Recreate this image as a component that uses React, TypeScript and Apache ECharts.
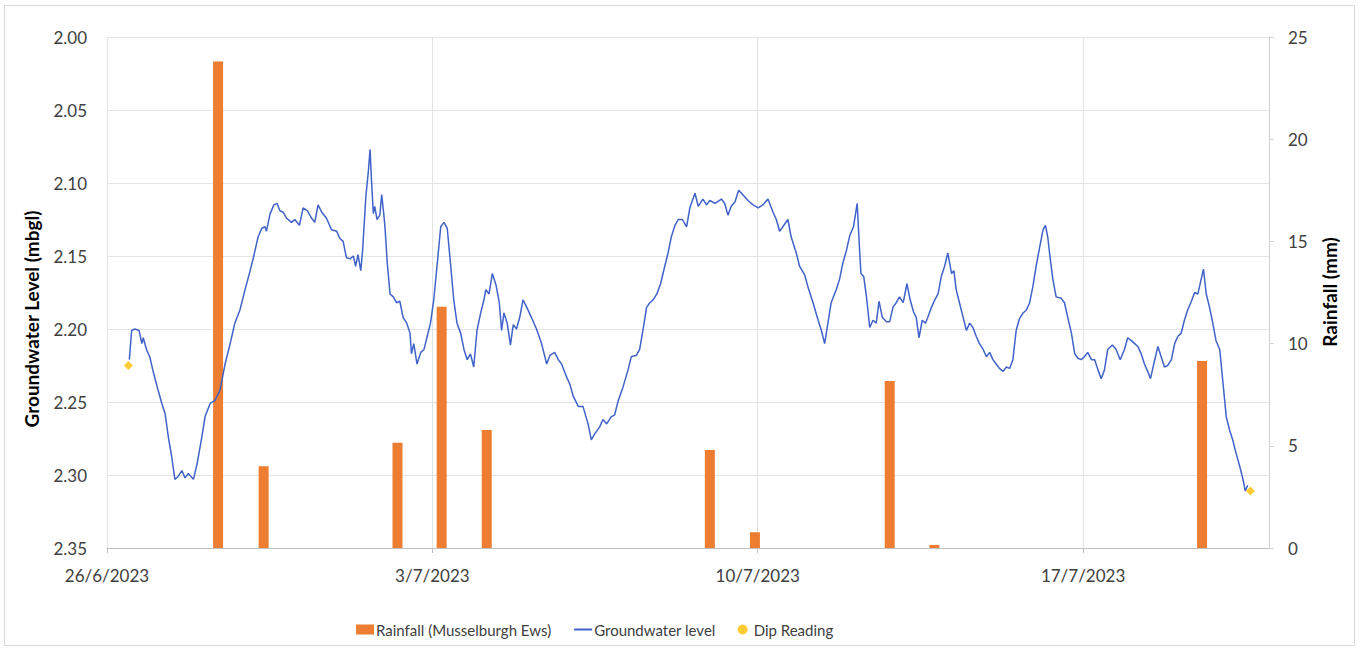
import React, { useEffect, useRef } from "react";
import * as echarts from "echarts";

// x values are days since 26/6/2023 00:00
const xTickLabels = ["26/6/2023", "3/7/2023", "10/7/2023", "17/7/2023"];

const rainDays = [2.39, 3.37, 6.25, 7.2, 8.17, 12.97, 13.94, 16.84, 17.8, 23.56];
const rainMm = [23.8, 4.0, 5.15, 11.8, 5.77, 4.79, 0.77, 8.17, 0.15, 9.15];

const dipDays = [0.46, 24.6];
const dipLevels = [2.225, 2.311];

const gwLevel: [number, number][] = [
  [0.48, 2.221], [0.53, 2.201], [0.6, 2.2], [0.69, 2.201], [0.75, 2.21], [0.78, 2.206],
  [0.85, 2.214], [0.92, 2.219], [1.0, 2.23], [1.1, 2.242], [1.18, 2.251], [1.25, 2.258],
  [1.32, 2.274], [1.39, 2.287], [1.46, 2.303], [1.53, 2.301], [1.61, 2.297], [1.68, 2.302],
  [1.75, 2.299], [1.86, 2.303], [1.94, 2.292], [2.04, 2.274], [2.11, 2.26], [2.22, 2.251],
  [2.32, 2.249], [2.43, 2.242], [2.54, 2.224], [2.65, 2.21], [2.75, 2.196], [2.86, 2.187],
  [2.97, 2.173], [3.08, 2.16], [3.15, 2.151], [3.25, 2.137], [3.33, 2.131], [3.4, 2.13],
  [3.43, 2.133], [3.51, 2.121], [3.59, 2.115], [3.66, 2.114], [3.72, 2.119], [3.79, 2.12],
  [3.86, 2.124], [3.97, 2.127], [4.04, 2.125], [4.14, 2.129], [4.22, 2.117], [4.31, 2.119],
  [4.4, 2.124], [4.47, 2.127], [4.54, 2.115], [4.62, 2.12], [4.72, 2.124], [4.83, 2.132],
  [4.94, 2.133], [5.01, 2.138], [5.08, 2.14], [5.15, 2.151], [5.23, 2.152], [5.3, 2.15],
  [5.35, 2.157], [5.4, 2.149], [5.46, 2.16], [5.5, 2.146], [5.57, 2.109], [5.62, 2.093],
  [5.66, 2.077], [5.69, 2.098], [5.73, 2.121], [5.76, 2.116], [5.81, 2.125], [5.87, 2.122],
  [5.91, 2.108], [5.96, 2.123], [5.98, 2.13], [6.03, 2.155], [6.09, 2.176], [6.16, 2.178],
  [6.23, 2.182], [6.3, 2.181], [6.37, 2.192], [6.45, 2.196], [6.52, 2.203], [6.55, 2.217],
  [6.6, 2.21], [6.67, 2.224], [6.75, 2.216], [6.82, 2.214], [6.89, 2.205], [6.96, 2.196],
  [7.03, 2.18], [7.1, 2.157], [7.18, 2.13], [7.25, 2.127], [7.32, 2.131], [7.39, 2.155],
  [7.46, 2.18], [7.53, 2.196], [7.61, 2.203], [7.68, 2.214], [7.75, 2.221], [7.82, 2.217],
  [7.89, 2.226], [7.96, 2.201], [8.04, 2.189], [8.11, 2.18], [8.15, 2.173], [8.22, 2.176],
  [8.29, 2.162], [8.37, 2.17], [8.44, 2.182], [8.49, 2.201], [8.54, 2.189], [8.61, 2.196],
  [8.68, 2.211], [8.74, 2.197], [8.81, 2.2], [8.88, 2.192], [8.95, 2.18], [9.03, 2.185],
  [9.13, 2.192], [9.24, 2.2], [9.35, 2.21], [9.46, 2.224], [9.53, 2.218], [9.63, 2.216],
  [9.71, 2.221], [9.78, 2.224], [9.89, 2.233], [9.96, 2.238], [10.03, 2.246], [10.14, 2.253],
  [10.24, 2.253], [10.35, 2.265], [10.42, 2.276], [10.49, 2.272], [10.6, 2.267], [10.67, 2.262],
  [10.75, 2.265], [10.85, 2.26], [10.92, 2.259], [11.0, 2.249], [11.1, 2.24], [11.21, 2.228],
  [11.28, 2.219], [11.39, 2.218], [11.46, 2.214], [11.53, 2.201], [11.61, 2.185], [11.68, 2.182],
  [11.75, 2.18], [11.83, 2.176], [11.91, 2.169], [12.0, 2.157], [12.07, 2.148], [12.14, 2.137],
  [12.22, 2.129], [12.29, 2.125], [12.38, 2.125], [12.47, 2.13], [12.54, 2.117], [12.65, 2.107],
  [12.72, 2.116], [12.82, 2.111], [12.9, 2.115], [12.97, 2.112], [13.08, 2.114], [13.22, 2.111],
  [13.29, 2.114], [13.36, 2.122], [13.43, 2.116], [13.51, 2.113], [13.59, 2.105], [13.68, 2.108],
  [13.79, 2.112], [13.9, 2.115], [14.01, 2.117], [14.11, 2.115], [14.22, 2.111], [14.33, 2.12],
  [14.4, 2.125], [14.47, 2.133], [14.54, 2.13], [14.65, 2.125], [14.72, 2.137], [14.83, 2.148],
  [14.9, 2.157], [15.01, 2.163], [15.08, 2.171], [15.19, 2.182], [15.3, 2.194], [15.37, 2.201],
  [15.44, 2.21], [15.51, 2.196], [15.58, 2.182], [15.69, 2.173], [15.76, 2.166], [15.83, 2.155],
  [15.91, 2.146], [15.98, 2.136], [16.06, 2.13], [16.14, 2.114], [16.18, 2.139], [16.22, 2.162],
  [16.28, 2.164], [16.34, 2.178], [16.41, 2.199], [16.48, 2.194], [16.55, 2.196], [16.61, 2.181],
  [16.68, 2.192], [16.77, 2.195], [16.84, 2.195], [16.91, 2.185], [16.98, 2.182], [17.05, 2.178],
  [17.13, 2.182], [17.21, 2.169], [17.28, 2.18], [17.35, 2.188], [17.41, 2.192], [17.47, 2.206],
  [17.54, 2.194], [17.61, 2.196], [17.66, 2.192], [17.74, 2.185], [17.81, 2.18], [17.88, 2.176],
  [17.95, 2.164], [18.02, 2.157], [18.09, 2.148], [18.17, 2.162], [18.22, 2.16], [18.27, 2.173],
  [18.34, 2.182], [18.42, 2.192], [18.49, 2.201], [18.56, 2.196], [18.63, 2.199], [18.7, 2.205],
  [18.77, 2.21], [18.85, 2.214], [18.92, 2.219], [18.99, 2.216], [19.06, 2.221], [19.13, 2.224],
  [19.2, 2.227], [19.28, 2.229], [19.35, 2.226], [19.42, 2.227], [19.49, 2.221], [19.56, 2.201],
  [19.63, 2.193], [19.71, 2.189], [19.78, 2.187], [19.85, 2.182], [19.92, 2.171], [19.99, 2.157],
  [20.06, 2.145], [20.14, 2.132], [20.19, 2.129], [20.24, 2.137], [20.29, 2.151], [20.35, 2.166],
  [20.42, 2.178], [20.53, 2.179], [20.6, 2.182], [20.67, 2.192], [20.75, 2.203], [20.82, 2.217],
  [20.89, 2.22], [20.96, 2.221], [21.03, 2.219], [21.1, 2.216], [21.18, 2.221], [21.25, 2.221],
  [21.32, 2.228], [21.39, 2.234], [21.46, 2.228], [21.53, 2.214], [21.63, 2.211], [21.71, 2.214],
  [21.8, 2.221], [21.89, 2.214], [21.96, 2.206], [22.04, 2.208], [22.11, 2.21], [22.18, 2.212],
  [22.25, 2.217], [22.32, 2.224], [22.39, 2.229], [22.45, 2.234], [22.52, 2.224], [22.61, 2.212],
  [22.68, 2.219], [22.75, 2.226], [22.82, 2.225], [22.9, 2.221], [22.97, 2.21], [23.04, 2.205],
  [23.11, 2.203], [23.18, 2.194], [23.25, 2.187], [23.33, 2.181], [23.4, 2.175], [23.47, 2.176],
  [23.54, 2.166], [23.59, 2.159], [23.65, 2.176], [23.72, 2.185], [23.79, 2.196], [23.86, 2.208],
  [23.94, 2.214], [24.01, 2.237], [24.08, 2.26], [24.15, 2.269], [24.22, 2.276], [24.29, 2.285],
  [24.37, 2.294], [24.44, 2.303], [24.49, 2.311], [24.54, 2.307],
];

const leftTitle = "Groundwater Level (mbgl)";
const rightTitle = "Rainfall (mm)";

const FONT = "Lato, 'Open Sans', sans-serif";
const TXT = "#404040";

export default function App() {
  const ref = useRef<HTMLDivElement>(null);
  useEffect(() => {
    if (!ref.current) return;
    const chart = echarts.init(ref.current, null, { renderer: "svg" });
    chart.setOption({
      animation: false,
      backgroundColor: "#ffffff",
      textStyle: { fontFamily: FONT },
      graphic: [
        {
          type: "rect",
          shape: { x: 4.5, y: 5.5, width: 1350, height: 640 },
          style: { fill: "none", stroke: "#d9d9d9", lineWidth: 1 },
          silent: true,
        },
        {
          type: "text",
          x: 31,
          y: 319,
          rotation: Math.PI / 2,
          style: {
            text: leftTitle,
            font: `bold 19px ${FONT}`,
            fill: "#000",
            align: "center",
            verticalAlign: "middle",
          },
        },
        {
          type: "text",
          x: 1329,
          y: 292,
          rotation: Math.PI / 2,
          style: {
            text: rightTitle,
            font: `bold 19px ${FONT}`,
            fill: "#000",
            align: "center",
            verticalAlign: "middle",
          },
        },
      ],
      grid: { left: 107, right: 94, top: 37, bottom: 102, containLabel: false },
      legend: {
        left: 351,
        top: 617,
        itemWidth: 18,
        itemHeight: 10,
        itemGap: 22,
        textStyle: { fontFamily: FONT, fontSize: 15, color: TXT, padding: [0, 0, 0, -3] },
        data: [
          { name: "Rainfall (Musselburgh Ews)", icon: "rect" },
          { name: "Groundwater level", itemStyle: { opacity: 0 } },
          { name: "Dip Reading", icon: "circle", itemStyle: { color: "#FFC000" } },
        ],
      },
      xAxis: {
        type: "value",
        min: 0,
        max: 25,
        interval: 7,
        axisLine: { show: true, lineStyle: { color: "#bfbfbf" } },
        axisTick: { show: true, length: 5, lineStyle: { color: "#bfbfbf" } },
        axisLabel: {
          color: TXT,
          fontSize: 17,
          fontFamily: FONT,
          margin: 19,
          showMaxLabel: false,
          formatter: (v: number) => xTickLabels[Math.round(v / 7)] ?? "",
        },
        splitLine: { show: true, lineStyle: { color: "#e3e3e3" } },
      },
      yAxis: [
        {
          type: "value",
          inverse: true,
          min: 2.0,
          max: 2.35,
          interval: 0.05,
          axisLine: { show: false },
          axisTick: { show: false },
          axisLabel: {
            color: TXT,
            fontSize: 17,
            fontFamily: FONT,
            margin: 20,
            formatter: (v: number) => v.toFixed(2),
          },
          splitLine: { show: true, lineStyle: { color: "#e3e3e3" } },
        },
        {
          type: "value",
          min: 0,
          max: 25,
          interval: 5,
          position: "right",
          axisLine: { show: true, lineStyle: { color: "#d0d0d0" } },
          axisTick: { show: true, length: 5, lineStyle: { color: "#d0d0d0" } },
          axisLabel: { color: TXT, fontSize: 17, fontFamily: FONT, margin: 19 },
          splitLine: { show: false },
        },
      ],
      series: [
        {
          name: "Rainfall (Musselburgh Ews)",
          type: "bar",
          yAxisIndex: 1,
          barWidth: 10,
          itemStyle: { color: "#ED7D31" },
          data: rainDays.map((d, i) => [d, rainMm[i]]),
          z: 1,
        },
        {
          name: "Groundwater level",
          type: "line",
          yAxisIndex: 0,
          showSymbol: false,
          symbol: "none",
          lineStyle: { color: "#4062C9", width: 1.5 },
          itemStyle: { color: "#4062C9" },
          data: gwLevel,
          z: 3,
        },
        {
          name: "Dip Reading",
          type: "scatter",
          yAxisIndex: 0,
          symbol: "diamond",
          symbolSize: 9,
          itemStyle: { color: "#FFC000" },
          data: dipDays.map((d, i) => [d, dipLevels[i]]),
          z: 4,
        },
      ],
    });
    return () => chart.dispose();
  }, []);
  return (
    <div
      ref={ref}
      style={{ position: "fixed", left: 0, top: 0, width: 1363, height: 650 }}
    />
  );
}
